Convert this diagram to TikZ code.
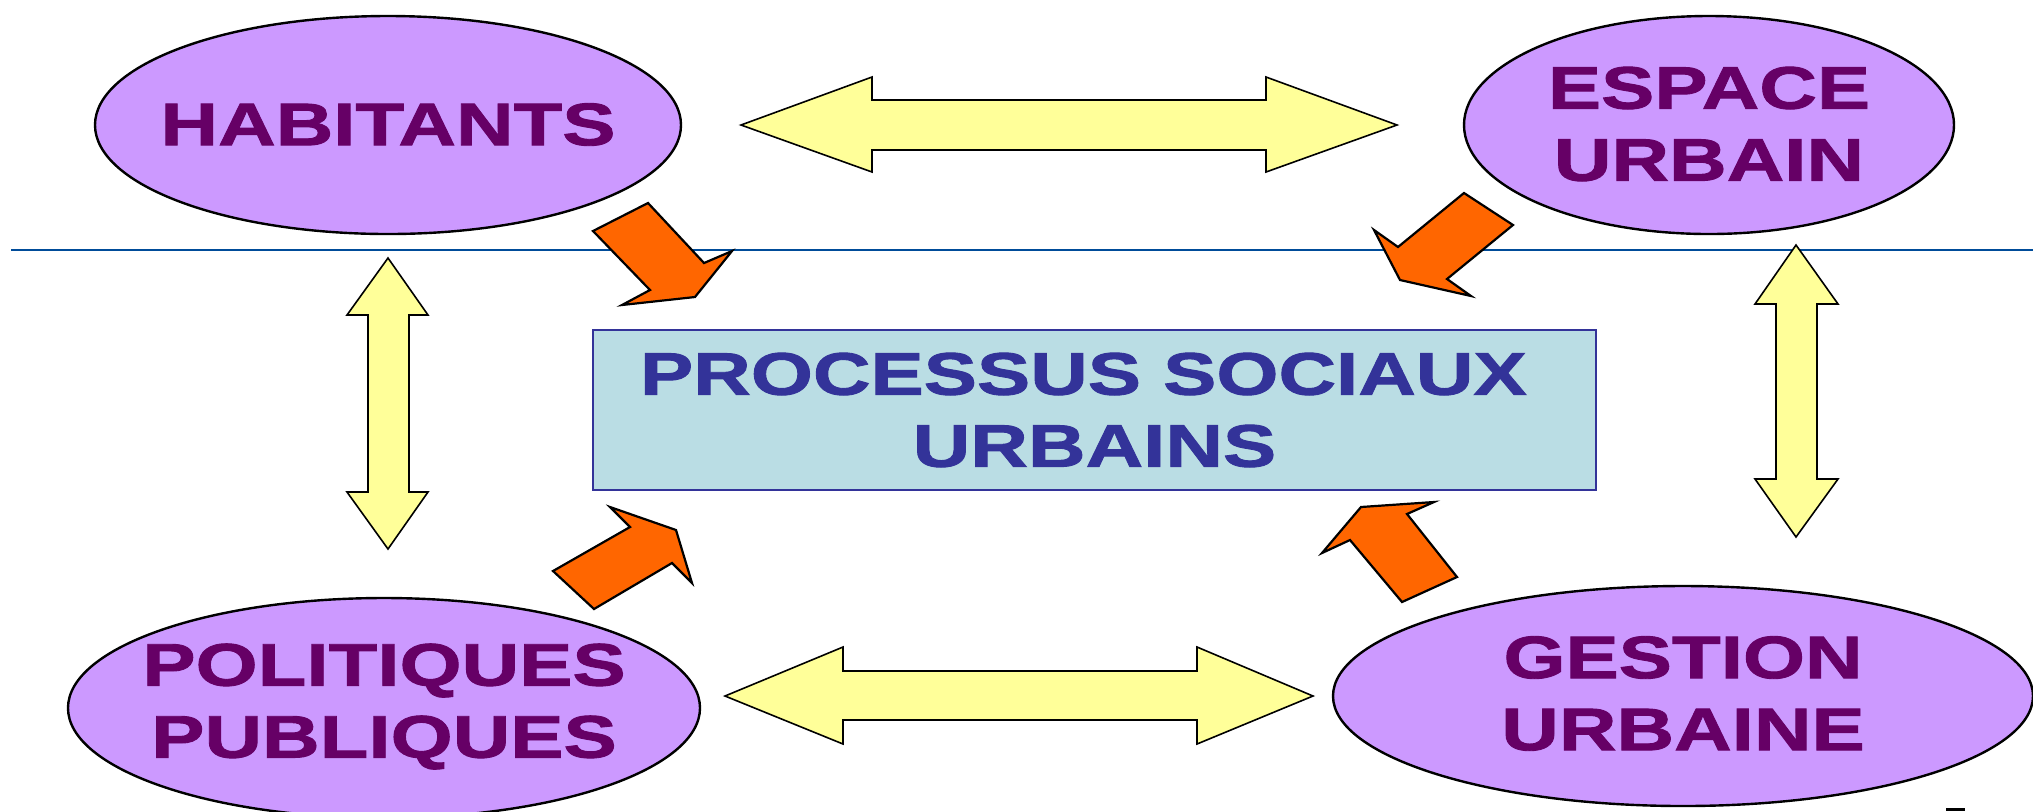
\documentclass[tikz,border=0pt]{standalone}
\usepackage{fontspec}
\newfontfamily\widebf{Liberation Sans}[FakeStretch=1.33,FakeBold=1.5]
\usetikzlibrary{shapes.geometric}
\definecolor{lilac}{HTML}{CC99FF}
\definecolor{plum}{HTML}{660066}
\definecolor{paleyellow}{HTML}{FFFF99}
\definecolor{orangeA}{HTML}{FF6600}
\definecolor{paleblue}{HTML}{BADDE4}
\definecolor{navy}{HTML}{333399}
\definecolor{rulecol}{HTML}{004C99}
\begin{document}
\begin{tikzpicture}[x=0.5pt,y=-0.5pt,
  ell/.style={ellipse,draw=black,line width=1.2pt,fill=lilac,inner sep=0pt},
  lbl/.style={align=center,text=plum,inner sep=0pt,
    font=\widebf\bfseries\fontsize{30}{36}\selectfont},
  dblarrow/.style={draw=black,line width=0.8pt,fill=paleyellow,line join=miter},
  blockarrow/.style={draw=black,line width=1.1pt,fill=orangeA,line join=miter}]
\useasboundingbox (0,0) rectangle (2033,811);
\clip (0,0) rectangle (2033,811);
\fill[white] (0,0) rectangle (2033,811);
% horizontal rule
\coordinate (rl) at (11,250);
\coordinate (rr) at (2033,250);
\draw[rulecol,line width=1.1pt] (rl) -- (rr);
% ellipses
\node[ell,minimum width=293pt,minimum height=109pt] (hab) at (388,125) {};
\node[ell,minimum width=245pt,minimum height=109pt] (esp) at (1709,125) {};
\node[ell,minimum width=316pt,minimum height=110pt] (pol) at (384,708) {};
\node[ell,minimum width=350pt,minimum height=110pt] (ges) at (1683,696) {};
\node[lbl] (habt) at (388,124.5) {HABITANTS};
\node[lbl] (espt) at (1709,124) {ESPACE\\URBAIN};
\node[lbl] (polt) at (384,706.5) {POLITIQUES\\PUBLIQUES};
\node[lbl] (gest) at (1683,693.5) {GESTION\\URBAINE};
% central box
\node[draw=navy,line width=0.75pt,fill=paleblue,minimum width=501.5pt,minimum height=80pt,
  inner sep=0pt,align=center,text=navy,font=\widebf\bfseries\fontsize{30}{36}\selectfont]
  (proc) at (1094.5,410) {PROCESSUS SOCIAUX\hphantom{I}\\URBAINS};
% yellow double arrows
\draw[dblarrow] (741,125) -- (872,77) -- (872,100) -- (1266,100) -- (1266,77) -- (1397,125)
  -- (1266,172) -- (1266,150) -- (872,150) -- (872,172) -- cycle;
\draw[dblarrow] (388,258) -- (428,315) -- (409,315) -- (409,492) -- (428,492) -- (388,549)
  -- (347,492) -- (368,492) -- (368,315) -- (347,315) -- cycle;
\draw[dblarrow] (1796,245) -- (1838,304) -- (1817,304) -- (1817,479) -- (1838,479) -- (1796,537)
  -- (1755,479) -- (1776,479) -- (1776,304) -- (1755,304) -- cycle;
\draw[dblarrow] (725,696) -- (843,647) -- (843,671) -- (1197,671) -- (1197,647) -- (1313,696)
  -- (1197,744) -- (1197,720) -- (843,720) -- (843,744) -- cycle;
% orange block arrows
\draw[blockarrow] (593,231) -- (648,203) -- (704,263) -- (732,251) -- (695,297) -- (622,305) -- (650,290) -- cycle;
\draw[blockarrow] (1464,193) -- (1513,225) -- (1447,279) -- (1471,296) -- (1400,280) -- (1374,230) -- (1398,247) -- cycle;
\draw[blockarrow] (553,571) -- (594,609) -- (672,563) -- (692,583) -- (676,530) -- (610,507) -- (630,527) -- cycle;
\draw[blockarrow] (1402,602) -- (1457,577) -- (1407,514) -- (1434,502) -- (1361,507) -- (1322,553) -- (1350,540) -- cycle;
% small dash bottom right
\coordinate (d1) at (1946,809.5);
\coordinate (d2) at (1965,809.5);
\draw[line width=1.25pt] (d1) -- (d2);
\end{tikzpicture}
\end{document}
